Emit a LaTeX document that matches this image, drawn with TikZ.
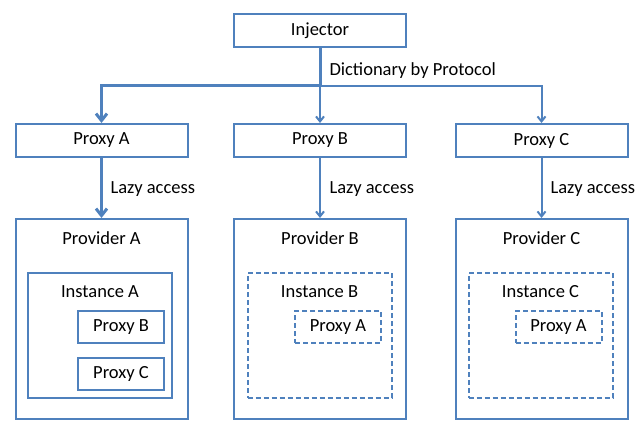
\documentclass[tikz,border=0pt]{standalone}
\usepackage{fontspec}
\setmainfont{Carlito}
\usetikzlibrary{arrows.meta}
\definecolor{officeblue}{RGB}{79,129,189}
\tikzset{
    proxybox/.style={draw=officeblue, line width=2pt, minimum width=172pt, minimum height=33pt, inner sep=0pt},
    providerbox/.style={draw=officeblue, line width=2pt, minimum width=172pt, minimum height=200pt, inner sep=0pt},
    instancebox/.style={draw=officeblue, line width=2pt, minimum width=144pt, minimum height=125pt, inner sep=0pt},
    heldbox/.style={draw=officeblue, line width=2pt, minimum width=86pt, minimum height=32pt, inner sep=0pt},
    lazybox/.style={dash pattern=on 5pt off 3pt},
    strongline/.style={draw=officeblue, line width=3pt},
    strongarrow/.style={strongline, -{Straight Barb[length=7pt,width=11pt]}},
    weakarrow/.style={draw=officeblue, line width=2pt, -{Straight Barb[length=5pt,width=8pt]}}
}
\begin{document}
\begin{tikzpicture}[x=1pt, y=-1pt, font=\fontsize{18.5}{22}\selectfont]
            \useasboundingbox (0, 0) rectangle (640, 436);
            \node[proxybox] (inj) at (320, 31) {Injector};
            \node[proxybox] (pxA) at (101.5, 140.5) {Proxy A};
            \node[proxybox] (pxB) at (320, 140.5) {Proxy B};
            \node[proxybox] (pxC) at (541.5, 140.5) {Proxy C};

            \node[providerbox] (provA) at (101.5, 319) {};
            \node[providerbox] (provB) at (320, 319) {};
            \node[providerbox] (provC) at (541.5, 319) {};
            \node (provAtext) at (101.5, 238) {Provider A};
            \node (provBtext) at (320, 238) {Provider B};
            \node (provCtext) at (541.5, 238) {Provider C};

            \node[instancebox] (instA) at (100, 335.5) {};
            \node[instancebox, lazybox] (instB) at (319.5, 335.5) {};
            \node[instancebox, lazybox] (instC) at (540.5, 335.5) {};
            \node (instAtext) at (100, 291.5) {Instance A};
            \node (instBtext) at (319.5, 291.5) {Instance B};
            \node (instCtext) at (540.5, 291.5) {Instance C};

            \node[heldbox] (heldB) at (121, 327) {Proxy B};
            \node[heldbox] (heldC) at (121, 374) {Proxy C};
            \node[heldbox, lazybox] (lazyAinB) at (338, 327) {Proxy A};
            \node[heldbox, lazybox] (lazyAinC) at (558.5, 327) {Proxy A};

            \coordinate (split) at (320, 86);
            \draw[strongline] (inj) -- (split);
            \draw[strongarrow] (split) -| (pxA);
            \draw[weakarrow] (split) -- (pxB);
            \draw[weakarrow] (split) -| (pxC);
            \node[anchor=west] (dict) at (326, 71) {Dictionary by Protocol};

            \draw[strongarrow] (pxA) -- (provA);
            \draw[weakarrow] (pxB) -- (provB);
            \draw[weakarrow] (pxC) -- (provC);
            \node[anchor=west] (lazyA) at (107, 189) {Lazy access};
            \node[anchor=west] (lazyB) at (326, 189) {Lazy access};
            \node[anchor=west] (lazyC) at (547, 189) {Lazy access};
\end{tikzpicture}
\end{document}
